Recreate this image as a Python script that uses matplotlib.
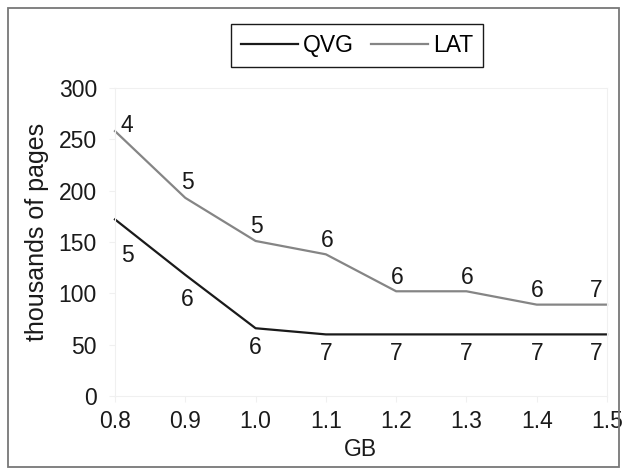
import matplotlib
matplotlib.use("Agg")
import matplotlib.pyplot as plt
from matplotlib.patches import Rectangle

gb = [0.8, 0.9, 1.0, 1.1, 1.2, 1.3, 1.4, 1.5]
qvg = [172, 118, 66, 60, 60, 60, 60, 60]
lat = [258, 193, 151, 138, 102, 102, 89, 89]
qvg_labels = ["5", "6", "6", "7", "7", "7", "7", "7"]
lat_labels = ["4", "5", "5", "6", "6", "6", "6", "7"]
xticks = [0.8, 0.9, 1.0, 1.1, 1.2, 1.3, 1.4, 1.5]
xticklabels = ["0.8", "0.9", "1.0", "1.1", "1.2", "1.3", "1.4", "1.5"]
yticks = [0, 50, 100, 150, 200, 250, 300]

plt.rcParams['font.family'] = ['Liberation Sans', 'DejaVu Sans']
FS = 16.5

fig = plt.figure(figsize=(6.24, 4.75), dpi=100)
ax = fig.add_axes([115/624, 1-396/475, 492/624, 308/475])

ax.plot(gb, qvg, color="#1a1a1a", lw=1.6, label="QVG", clip_on=False)
ax.plot(gb, lat, color="#858585", lw=1.6, label="LAT", clip_on=False)

n = len(gb)
for i in range(n):
    if i == 0:
        off_l = (12, 6); off_q = (12, -36)
    elif i == n - 1:
        off_l = (-11, 14); off_q = (-11, -19)
    elif i == 1:
        off_l = (2, 15); off_q = (2, -25)
    else:
        off_l = (1, 14); off_q = (0, -19)
    ax.annotate(lat_labels[i], (gb[i], lat[i]), xytext=off_l, textcoords="offset pixels",
                ha="center", va="center", fontsize=FS, color="#1a1a1a")
    ax.annotate(qvg_labels[i], (gb[i], qvg[i]), xytext=off_q, textcoords="offset pixels",
                ha="center", va="center", fontsize=FS, color="#1a1a1a")

ax.set_xlim(0.8, 1.5)
ax.set_ylim(0, 300)
ax.set_xticks(xticks)
ax.set_xticklabels(xticklabels)
ax.set_yticks(yticks)
for s in ax.spines.values():
    s.set_color("#f0f0f0")
    s.set_linewidth(0.8)
ax.tick_params(axis="both", colors="#f0f0f0", labelcolor="#1a1a1a", labelsize=FS,
               length=4, width=0.8)
ax.tick_params(axis="y", pad=9)
ax.tick_params(axis="x", pad=6)

fig.text(360/624, 1-449/475, "GB", ha="center", va="center", fontsize=FS, color="#1a1a1a")
fig.text(37/624, 1-232/475, "thousands of pages", rotation=90, ha="center", va="center",
         fontsize=18, color="#1a1a1a")

leg = fig.legend(loc="center", bbox_to_anchor=(357/624, 1-45.5/475), ncol=2, fontsize=FS,
                 frameon=True, fancybox=False, edgecolor="#1a1a1a", handlelength=2.5,
                 handletextpad=0.2, columnspacing=0.75, borderpad=0.45, framealpha=1)
leg.get_frame().set_linewidth(1.0)

fig.patches.append(Rectangle((8/624, 1-467/475), 611/624, 459/475, transform=fig.transFigure,
                             fill=False, edgecolor="#777777", lw=1.3))

fig.savefig("out.png", dpi=100)
